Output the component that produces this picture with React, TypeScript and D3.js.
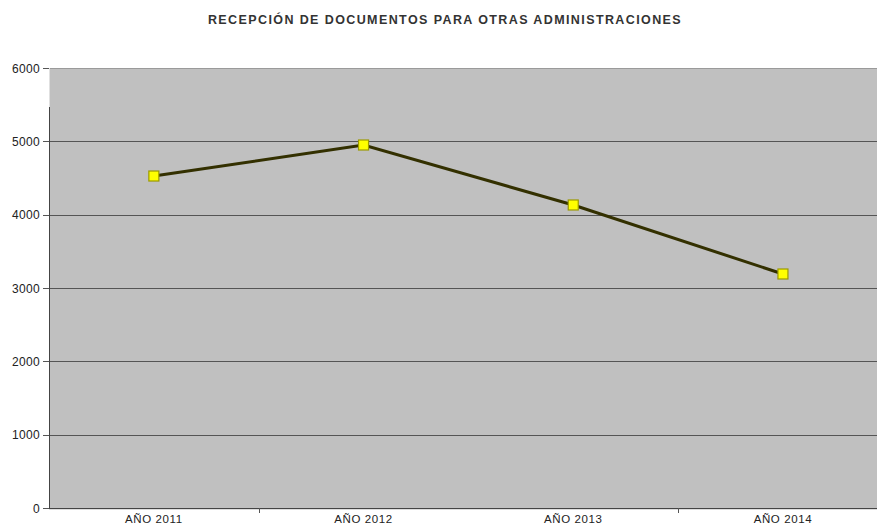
import React from "react";
import * as d3 from "d3";

const categories = ["AÑO 2011", "AÑO 2012", "AÑO 2013", "AÑO 2014"];
const values = [4527, 4950, 4132, 3191];
const yTicks = [0, 1000, 2000, 3000, 4000, 5000, 6000];
const title = "RECEPCIÓN DE DOCUMENTOS PARA OTRAS ADMINISTRACIONES";

export default function App() {
  const W = 877, H = 526;
  const left = 49, top = 68, bottom = 508;
  const bandW = 209.7;
  const x = d3.scaleBand<string>().domain(categories).range([left, left + bandW * categories.length]).padding(0);
  const y = d3.scaleLinear().domain([0, 6000]).range([bottom, top]);
  const line = d3.line<number>()
    .x((_, i) => (x(categories[i]) as number) + x.bandwidth() / 2)
    .y((d) => y(d));
  const font = "Arial, 'Liberation Sans', sans-serif";
  const boundaries = [1, 3].map((i) => x(categories[i]) as number);
  return (
    <svg width={W} height={H} style={{ position: "absolute", left: 0, top: 0, background: "#fff" }}>
      <text x={445} y={24} textAnchor="middle" fontFamily={font} fontSize={12.5} fontWeight="bold" letterSpacing={1.4} fill="#333">{title}</text>
      <rect x={left} y={top} width={W - left} height={bottom - top} fill="#c0c0c0" />
      <line x1={left} x2={W} y1={top + 0.5} y2={top + 0.5} stroke="#9a9a9a" strokeWidth={1} />
      {yTicks.filter((t) => t > 0 && t < 6000).map((t) => (
        <line key={t} x1={left} x2={W} y1={Math.round(y(t)) + 0.5} y2={Math.round(y(t)) + 0.5} stroke="#555" strokeWidth={1} />
      ))}
      <line x1={left + 0.5} x2={left + 0.5} y1={top} y2={107} stroke="#e0e0e0" strokeWidth={1} />
      <line x1={left + 0.5} x2={left + 0.5} y1={107} y2={bottom} stroke="#444" strokeWidth={1} />
      <line x1={left} x2={W} y1={bottom + 0.5} y2={bottom + 0.5} stroke="#444" strokeWidth={1} />
      <line x1={left} x2={W} y1={bottom + 1.5} y2={bottom + 1.5} stroke="#ddd" strokeWidth={1} />
      {yTicks.map((t) => (
        <g key={t}>
          <line x1={left - 6} x2={left} y1={Math.round(y(t)) + 0.5} y2={Math.round(y(t)) + 0.5} stroke="#555" />
          <text x={left - 9} y={y(t) + 4.5} textAnchor="end" fontFamily={font} fontSize={12} letterSpacing={0.3} fill="#222">{t}</text>
        </g>
      ))}
      {boundaries.map((b, i) => (
        <line key={i} x1={Math.round(b) + 0.5} x2={Math.round(b) + 0.5} y1={bottom} y2={bottom + 5} stroke="#555" />
      ))}
      {categories.map((c) => (
        <text key={c} x={(x(c) as number) + x.bandwidth() / 2} y={523} textAnchor="middle" fontFamily={font} fontSize={11.5} letterSpacing={0.6} fill="#222">{c}</text>
      ))}
      <path d={line(values) || ""} fill="none" stroke="#333000" strokeWidth={3} />
      {values.map((v, i) => (
        <rect key={i} x={(x(categories[i]) as number) + x.bandwidth() / 2 - 5} y={y(v) - 5} width={10} height={10} fill="#ffff00" stroke="#9c9a00" strokeWidth={1.2} />
      ))}
    </svg>
  );
}
